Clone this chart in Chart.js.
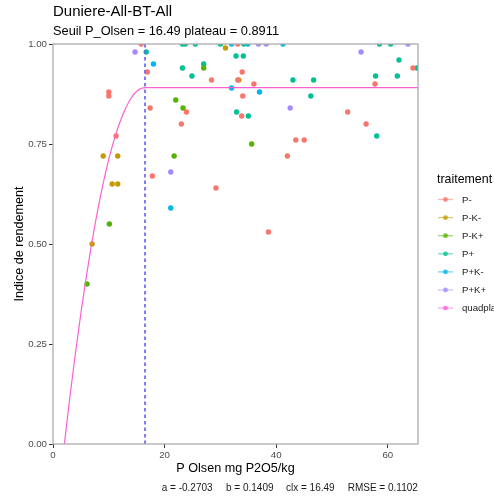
<!DOCTYPE html>
<html>
<head>
<meta charset="utf-8">
<script src="https://cdn.jsdelivr.net/npm/chart.js@4.4.0/dist/chart.umd.min.js"></script>
<style>
  html, body { margin: 0; padding: 0; background: #fff; }
  #wrap { width: 494px; height: 499px; position: relative; }
</style>
</head>
<body>
<div id="wrap"><canvas id="chart"></canvas></div>
<script>
// treatments and their points (P Olsen, yield index)
const treatments = ['P-', 'P-K-', 'P-K+', 'P+', 'P+K-', 'P+K+'];

const pMinusX = [15.8, 16.9, 10.0, 10.0, 17.4, 11.3, 17.8, 29.2, 38.6, 33.1, 33.9, 28.4, 33.1, 36.0, 34.0, 23.9, 33.8, 23.0, 43.5, 45.0, 42.0, 64.5, 57.7, 52.8, 56.1];
const pMinusY = [1.00, 0.93, 0.88, 0.87, 0.84, 0.77, 0.67, 0.64, 0.53, 1.00, 0.93, 0.91, 0.91, 0.90, 0.87, 0.83, 0.82, 0.80, 0.76, 0.76, 0.72, 0.94, 0.90, 0.83, 0.80];

const pMinusKMinusX = [9.0, 11.6, 10.6, 11.6, 7.0, 30.9, 33.3];
const pMinusKMinusY = [0.72, 0.72, 0.65, 0.65, 0.50, 0.99, 0.91];

const pMinusKPlusX = [22.0, 21.7, 10.1, 6.1, 27.0, 23.3, 35.6];
const pMinusKPlusY = [0.86, 0.72, 0.55, 0.40, 0.94, 0.84, 0.75];

const pPlusX = [16.7, 23.2, 23.7, 25.5, 30.0, 34.2, 58.5, 60.5, 32.8, 34.1, 62.0, 65.2, 57.8, 61.7, 23.2, 27.0, 24.9, 43.0, 46.7, 46.2, 32.9, 35.0, 58.0];
const pPlusY = [0.98, 1.00, 1.00, 1.00, 1.00, 1.00, 1.00, 1.00, 0.97, 0.97, 0.96, 0.94, 0.92, 0.92, 0.94, 0.95, 0.92, 0.91, 0.91, 0.87, 0.83, 0.82, 0.77];

const pPlusKMinusX = [18.0, 21.1, 32.0, 34.9, 41.2, 32.0, 37.0];
const pPlusKMinusY = [0.95, 0.59, 1.00, 1.00, 1.00, 0.89, 0.88];

const pPlusKPlusX = [14.7, 21.1, 36.8, 38.2, 63.6, 55.2, 42.5];
const pPlusKPlusY = [0.98, 0.68, 1.00, 1.00, 1.00, 0.98, 0.84];

// quadratic-plateau curve
const curveX = [2.04, 3, 4, 5, 6, 7, 8, 9, 10, 11, 12, 13, 14, 15, 16.49, 65.4];
const curveY = [0, 0.114, 0.225, 0.327, 0.421, 0.507, 0.584, 0.652, 0.712, 0.763, 0.805, 0.839, 0.865, 0.882, 0.891, 0.891];

const seuilX = 16.49;

const xTicks = [0, 20, 40, 60];
const xTickLabels = ['0', '20', '40', '60'];
const yTicks = [0, 0.25, 0.5, 0.75, 1];
const yTickLabels = ['0.00', '0.25', '0.50', '0.75', '1.00'];

const titleText = 'Duniere-All-BT-All';
const subtitleText = 'Seuil P_Olsen = 16.49 plateau = 0.8911';
const captionParts = ['a = -0.2703', 'b = 0.1409', 'clx = 16.49', 'RMSE = 0.1102'];

const colors = ['#F8766D', '#C49A00', '#53B400', '#00C094', '#00B6EB', '#A58AFF'];
const curveColor = '#FB61D7';
const FONT = '"Liberation Sans", Arial, Helvetica, sans-serif';

const seriesX = [pMinusX, pMinusKMinusX, pMinusKPlusX, pPlusX, pPlusKMinusX, pPlusKPlusX];
const seriesY = [pMinusY, pMinusKMinusY, pMinusKPlusY, pPlusY, pPlusKMinusY, pPlusKPlusY];

function toPoints(xs, ys) {
    return xs.map((x, i) => ({x: x, y: ys[i]}));
}

const datasets = [];
datasets.push({
    label: 'seuil',
    data: [{x: seuilX, y: 0}, {x: seuilX, y: 1}],
    showLine: true,
    borderColor: 'rgba(100, 100, 255, 0.85)',
    borderWidth: 2,
    borderDash: [3.5, 3],
    pointRadius: 0,
    clip: 0,
    order: 0
});
datasets.push({
    label: 'quadplateau',
    data: toPoints(curveX, curveY),
    showLine: true,
    borderColor: curveColor,
    borderWidth: 1.2,
    cubicInterpolationMode: 'monotone',
    pointRadius: 0,
    clip: 0,
    order: 1
});
treatments.forEach((t, k) => {
    datasets.push({
        label: t,
        data: toPoints(seriesX[k], seriesY[k]),
        backgroundColor: colors[k],
        pointBackgroundColor: colors[k],
        pointBorderWidth: 0,
        pointRadius: 2.7,
        clip: 0,
        order: 2
    });
});

const decor = {
    id: 'decor',
    beforeDraw(chart) {
        const c = chart.ctx;
        c.save();
        c.fillStyle = '#fff';
        c.fillRect(0, 0, chart.width, chart.height);
        c.restore();
    },
    afterDatasetsDraw(chart) {
        const c = chart.ctx;
        const a = chart.chartArea;
        c.save();
        c.strokeStyle = '#adadad';
        c.lineWidth = 1.3;
        c.strokeRect(a.left, a.top, a.right - a.left, a.bottom - a.top);
        c.restore();
    },
    afterDraw(chart) {
        const c = chart.ctx;
        c.save();
        c.textBaseline = 'alphabetic';
        c.textAlign = 'left';
        c.fillStyle = '#000';
        c.font = '15px ' + FONT;
        c.fillText(titleText, 53, 15.5);
        c.font = '12.8px ' + FONT;
        c.fillText(subtitleText, 53, 35);

        // caption under the x axis
        c.font = '10px ' + FONT;
        c.fillStyle = '#1a1a1a';
        const capX = [161.7, 226, 286, 347.7];
        captionParts.forEach((p, i) => c.fillText(p, capX[i], 491));

        // legend
        c.fillStyle = '#000';
        c.font = '12.4px ' + FONT;
        c.fillText('traitement', 437, 183);
        const labels = treatments.concat(['quadplateau']);
        const keyCols = colors.concat([curveColor]);
        c.font = '9.6px ' + FONT;
        labels.forEach((lab, i) => {
            const y = 199.5 + i * 18.1;
            c.globalAlpha = 0.55;
            c.strokeStyle = keyCols[i];
            c.lineWidth = 1.3;
            c.beginPath();
            c.moveTo(438, y);
            c.lineTo(453, y);
            c.stroke();
            c.globalAlpha = 0.8;
            c.fillStyle = keyCols[i];
            c.beginPath();
            c.arc(445.5, y, 2.4, 0, Math.PI * 2);
            c.fill();
            c.globalAlpha = 1;
            c.fillStyle = '#1a1a1a';
            c.textBaseline = 'middle';
            c.fillText(lab, 462, y + 0.5);
        });
        c.restore();
    }
};

var ctx = document.getElementById('chart').getContext('2d');
var myChart = new Chart(ctx, {
    type: 'scatter',
    data: { datasets: datasets },
    options: {
        responsive: true,
        maintainAspectRatio: false,
        animation: false,
        events: [],
        layout: { padding: { left: 0, right: 76, top: 44, bottom: 0 } },
        plugins: {
            legend: { display: false },
            tooltip: { enabled: false }
        },
        scales: {
            x: {
                type: 'linear',
                min: 0,
                max: 65.4,
                afterFit: function(s) { s.height = 55; },
                afterBuildTicks: function(s) { s.ticks = xTicks.map(v => ({value: v})); },
                ticks: {
                    font: { family: FONT, size: 9.7 },
                    color: '#4d4d4d',
                    padding: 2,
                    maxRotation: 0,
                    autoSkip: false,
                    callback: (v, i) => xTickLabels[i]
                },
                grid: { display: true, drawOnChartArea: false, drawTicks: true, tickLength: 4, tickColor: '#333', tickWidth: 1 },
                border: { display: false },
                title: {
                    display: true,
                    text: 'P Olsen mg P2O5/kg',
                    font: { family: FONT, size: 12.6 },
                    color: '#000',
                    padding: { top: 0, bottom: 22.8 }
                }
            },
            y: {
                type: 'linear',
                min: 0,
                max: 1,
                afterFit: function(s) { s.width = 53; },
                afterBuildTicks: function(s) { s.ticks = yTicks.map(v => ({value: v})); },
                ticks: {
                    font: { family: FONT, size: 9.7 },
                    color: '#4d4d4d',
                    padding: 2,
                    autoSkip: false,
                    callback: (v, i) => yTickLabels[i]
                },
                grid: { display: true, drawOnChartArea: false, drawTicks: true, tickLength: 4, tickColor: '#333', tickWidth: 1 },
                border: { display: false },
                title: {
                    display: true,
                    text: 'Indice de rendement',
                    font: { family: FONT, size: 12.6 },
                    color: '#000',
                    padding: { top: 12, bottom: 0 }
                }
            }
        }
    },
    plugins: [decor]
});
</script>
</body>
</html>
